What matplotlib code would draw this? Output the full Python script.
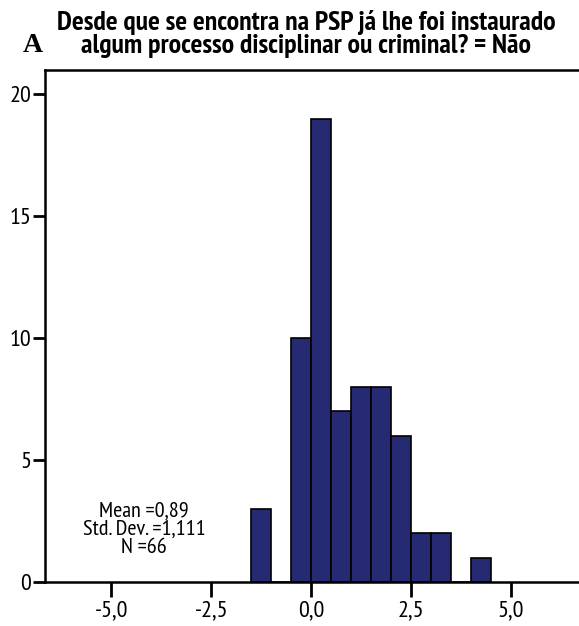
import numpy as np
import matplotlib
matplotlib.use("Agg")
import matplotlib.pyplot as plt

# histogram bins (width 0.5) and counts
bin_left = [-1.5, -1.0, -0.5, 0.0, 0.5, 1.0, 1.5, 2.0, 2.5, 3.0, 3.5, 4.0]
counts = [3, 0, 10, 19, 7, 8, 8, 6, 2, 2, 0, 1]
bin_width = 0.5

xticks = [-5.0, -2.5, 0.0, 2.5, 5.0]
xtick_labels = ["-5,0", "-2,5", "0,0", "2,5", "5,0"]
yticks = [0, 5, 10, 15, 20]

title = ("Desde que se encontra na PSP já lhe foi instaurado\n"
         "algum processo disciplinar ou criminal? = Não")
stats_text = "Mean =0,89\nStd. Dev. =1,111\nN =66"

narrow = ["PT Sans Narrow", "Archivo Narrow", "DejaVu Sans"]

fig = plt.figure(figsize=(5.79, 6.26), dpi=100)
ax = fig.add_axes([45 / 579, 1 - 582 / 626, 1 - 45 / 579 + 0.01, (582 - 70) / 626])

ax.bar(bin_left, counts, width=bin_width, align="edge",
       color="#262a72", edgecolor="black", linewidth=1.2)

ax.set_xlim(-6.66, 6.85)
ax.set_ylim(0, 21)
ax.set_xticks(xticks)
ax.set_xticklabels(xtick_labels)
ax.set_yticks(yticks)

for s in ax.spines.values():
    s.set_linewidth(1.8)
ax.tick_params(axis="x", length=11, width=2, pad=2, labelsize=17.5)
ax.tick_params(axis="y", length=9, width=2, pad=1, labelsize=17.5)
for lab in ax.get_xticklabels() + ax.get_yticklabels():
    lab.set_family(narrow)

ax.text(-4.18, 2.15, stats_text, ha="center", va="center", fontsize=16,
        family=narrow, linespacing=0.95)

fig.text(306 / 579, 1 - 34 / 626, title, ha="center", va="center",
         fontsize=20, fontweight="bold", family=narrow, linespacing=0.9)
fig.text(33 / 579, 1 - 46 / 626, "A", ha="center", va="center",
         fontsize=20, fontweight="bold", family="Liberation Serif")

fig.savefig("out.png", dpi=100)
